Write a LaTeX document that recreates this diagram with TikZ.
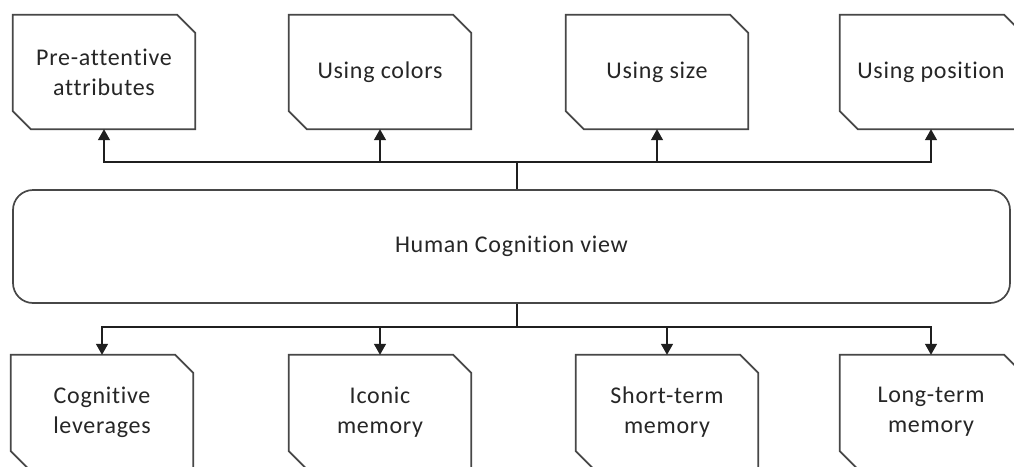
\documentclass[tikz,border=0pt]{standalone}
\usepackage{fontspec}
\setmainfont{Carlito}[LetterSpace=3.0, Ligatures=NoCommon]
\usetikzlibrary{arrows.meta,calc}

\tikzset{
  textbox/.style={draw=none, minimum width=182pt, minimum height=114pt,
    inner sep=0pt, align=center, text=black!85,
    font=\fontsize{24}{30}\selectfont},
  boxline/.style={draw=black!72, line width=1.7pt, line join=miter},
  mainbox/.style={draw=black!72, line width=1.7pt, rounded corners=20pt,
    minimum width=997pt, minimum height=113pt, inner sep=0pt,
    text=black!85, font=\fontsize{24}{30}\selectfont},
  link/.style={draw=black!88, line width=1.4pt,
    -{Triangle[length=11pt,width=12pt]}},
  trunk/.style={draw=black!88, line width=1.6pt},
}

% outline with the top-right and bottom-left corners cut off
% (y grows downwards in this picture)
\newcommand{\cutoutline}[1]{%
  \draw[boxline] (#1.north west) -- ($(#1.north east)+(-18,0)$)
    -- ($(#1.north east)+(0,18)$) -- (#1.south east)
    -- ($(#1.south west)+(18,0)$) -- ($(#1.south west)+(0,-18)$) -- cycle;}

\begin{document}
\begin{tikzpicture}[x=1pt, y=-1pt]
  \path[use as bounding box, clip] (0,0) rectangle (1014,466);
  \fill[white] (0,0) rectangle (1014,466);

  % central view
  \node[mainbox] (main) at (511.5,246.5) {Human Cognition view};

  % upper row
  \node[textbox] (t1) at (104,72) {Pre-attentive\\attributes};
  \node[textbox] (t2) at (380,72) {Using colors};
  \node[textbox] (t3) at (657,72) {Using size};
  \node[textbox] (t4) at (931,72) {Using position};

  % lower row
  \node[textbox] (b1) at (102,412) {Cognitive\\leverages};
  \node[textbox] (b2) at (380,412) {Iconic\\memory};
  \node[textbox] (b3) at (667,412) {Short-term\\memory};
  \node[textbox] (b4) at (931,412) {Long-term\\memory};

  \foreach \n in {t1,t2,t3,t4,b1,b2,b3,b4} {\cutoutline{\n}}

  % junction points of the two trees
  \coordinate (jt) at (517,162);
  \coordinate (jb) at (517,327);

  \draw[trunk] (main.north -| jt) -- (jt);
  \draw[trunk] (main.south -| jb) -- (jb);

  \foreach \n in {t1,t2,t3,t4} {\draw[link] (jt) -| (\n.south);}
  \foreach \n in {b1,b2,b3,b4} {\draw[link] (jb) -| (\n.north);}
\end{tikzpicture}
\end{document}
